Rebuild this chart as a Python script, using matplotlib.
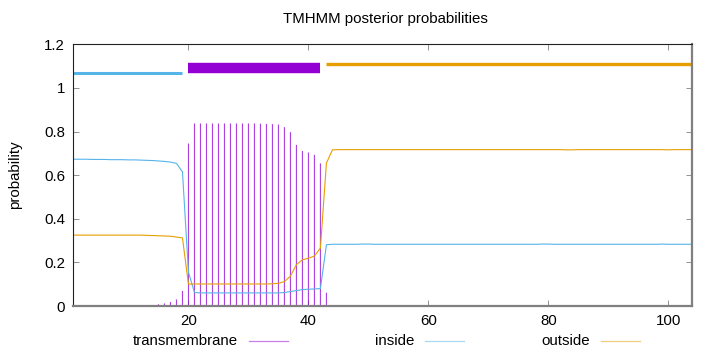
import numpy as np
import matplotlib
matplotlib.use("Agg")
import matplotlib.pyplot as plt
from matplotlib.lines import Line2D

plt.rcParams['font.family'] = ['Liberation Sans', 'DejaVu Sans']
plt.rcParams['font.size'] = 10.8

# residue positions 1..104
pos = np.arange(1, 105)

inside = [
    0.673, 0.673, 0.673, 0.672, 0.672, 0.672, 0.671, 0.671, 0.671, 0.670,
    0.670, 0.669, 0.668, 0.667, 0.665, 0.663, 0.660, 0.654, 0.615, 0.155,
    0.062, 0.060, 0.060, 0.060, 0.060, 0.060, 0.060, 0.060, 0.060, 0.060,
    0.060, 0.060, 0.060, 0.060, 0.060, 0.062, 0.066, 0.071, 0.075, 0.077,
    0.078, 0.080, 0.281, 0.283, 0.283, 0.283, 0.283, 0.283, 0.284, 0.284,
    0.283, 0.283, 0.283, 0.283, 0.283, 0.283, 0.283, 0.283, 0.283, 0.283,
    0.283, 0.283, 0.283, 0.283, 0.283, 0.283, 0.283, 0.283, 0.283, 0.283,
    0.283, 0.283, 0.283, 0.283, 0.283, 0.283, 0.283, 0.283, 0.284, 0.284,
    0.283, 0.283, 0.283, 0.283, 0.283, 0.283, 0.283, 0.283, 0.283, 0.283,
    0.283, 0.283, 0.283, 0.283, 0.283, 0.283, 0.283, 0.283, 0.284, 0.283,
    0.283, 0.283, 0.283, 0.283,
]

outside = [
    0.325, 0.325, 0.325, 0.325, 0.325, 0.325, 0.325, 0.325, 0.325, 0.325,
    0.325, 0.325, 0.324, 0.323, 0.322, 0.321, 0.320, 0.316, 0.312, 0.100,
    0.101, 0.101, 0.101, 0.101, 0.101, 0.101, 0.101, 0.101, 0.101, 0.101,
    0.101, 0.101, 0.101, 0.102, 0.104, 0.112, 0.137, 0.190, 0.212, 0.219,
    0.229, 0.266, 0.655, 0.716, 0.717, 0.717, 0.717, 0.717, 0.717, 0.717,
    0.717, 0.717, 0.717, 0.717, 0.717, 0.717, 0.717, 0.717, 0.717, 0.717,
    0.717, 0.717, 0.717, 0.717, 0.717, 0.717, 0.717, 0.717, 0.717, 0.717,
    0.717, 0.717, 0.717, 0.717, 0.717, 0.717, 0.717, 0.717, 0.717, 0.717,
    0.717, 0.717, 0.716, 0.716, 0.717, 0.717, 0.717, 0.717, 0.717, 0.717,
    0.717, 0.717, 0.717, 0.717, 0.717, 0.717, 0.717, 0.717, 0.717, 0.716,
    0.717, 0.717, 0.717, 0.717,
]

transmembrane = [
    0.000, 0.000, 0.000, 0.000, 0.000, 0.000, 0.000, 0.001, 0.001, 0.001,
    0.002, 0.002, 0.003, 0.004, 0.008, 0.012, 0.018, 0.030, 0.069, 0.745,
    0.837, 0.837, 0.837, 0.837, 0.837, 0.837, 0.837, 0.837, 0.837, 0.837,
    0.837, 0.836, 0.835, 0.834, 0.832, 0.820, 0.797, 0.739, 0.711, 0.704,
    0.693, 0.654, 0.061, 0.000, 0.000, 0.000, 0.000, 0.000, 0.000, 0.000,
    0.000, 0.000, 0.000, 0.000, 0.000, 0.000, 0.000, 0.000, 0.000, 0.000,
    0.000, 0.000, 0.000, 0.000, 0.000, 0.000, 0.000, 0.000, 0.000, 0.000,
    0.000, 0.000, 0.000, 0.000, 0.000, 0.000, 0.000, 0.000, 0.000, 0.000,
    0.000, 0.000, 0.000, 0.000, 0.000, 0.000, 0.000, 0.000, 0.000, 0.000,
    0.000, 0.000, 0.000, 0.000, 0.000, 0.000, 0.000, 0.000, 0.000, 0.000,
    0.000, 0.000, 0.000, 0.000,
]

# predicted topology segments drawn at the top
seg_names = ['inside', 'transmembrane', 'outside']
seg_start = [0.8, 19.9, 42.9]
seg_end = [18.9, 41.9, 104.0]
seg_level = [1.07, 1.09, 1.11]

colors = {'transmembrane': '#9400D3', 'inside': '#56B4E9', 'outside': '#E69F00'}
seg_width = {'inside': 2.2, 'transmembrane': 7.5, 'outside': 2.4}

fig = plt.figure(figsize=(7.2, 3.52), dpi=100)
ax = fig.add_axes([73.3 / 720, 1 - 306 / 352, (692.3 - 73.3) / 720, (306 - 44.3) / 352])

ax.vlines(pos, 0, transmembrane, color=colors['transmembrane'], lw=0.8,
          snap=False, alpha=0.75)
ax.plot(pos, inside, color=colors['inside'], lw=0.8)
ax.plot(pos, outside, color=colors['outside'], lw=0.8)

for name, s, e, lv in zip(seg_names, seg_start, seg_end, seg_level):
    ax.plot([s, e], [lv, lv], color=colors[name], lw=seg_width[name],
            solid_capstyle='butt')

ax.set_xlim(0.8, 104)
ax.set_ylim(0, 1.2)
ax.set_xticks([20, 40, 60, 80, 100])
ax.set_yticks([0, 0.2, 0.4, 0.6, 0.8, 1.0, 1.2])
ax.set_yticklabels(['0', '0.2', '0.4', '0.6', '0.8', '1', '1.2'])
ax.tick_params(direction='in', top=True, right=True, length=4, width=0.5,
               color='#666666', labelcolor='black', pad=6)

for side in ['left', 'top']:
    ax.spines[side].set_linewidth(0.8)
    ax.spines[side].set_color('#222222')
for side in ['bottom', 'right']:
    ax.spines[side].set_linewidth(1.6)
    ax.spines[side].set_color('#808080')

fig.text(385 / 720, 1 - 19 / 352, 'TMHMM posterior probabilities',
         ha='center', va='center')
fig.text(15 / 720, 1 - 175 / 352, 'probability', rotation=90,
         ha='center', va='center')

# key below the plot: label right-justified, sample line to its right
key_names = ['transmembrane', 'inside', 'outside']
key_text_right = [238, 414, 590]
key_y = 1 - 341 / 352
for name, xr in zip(key_names, key_text_right):
    fig.text(xr / 720, key_y, name, ha='right', va='center')
    fig.add_artist(Line2D([(xr + 11) / 720, (xr + 50) / 720], [key_y, key_y],
                          transform=fig.transFigure, color=colors[name],
                          lw=0.9, alpha=0.5))

fig.savefig('out.png', dpi=100)
